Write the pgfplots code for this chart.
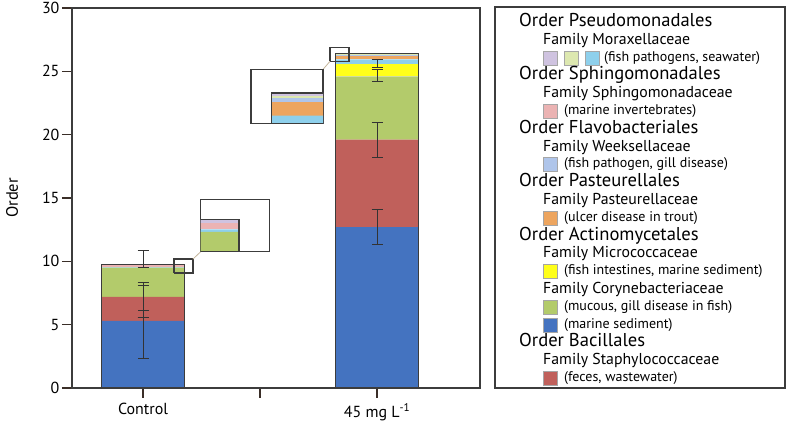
\documentclass[border=0pt]{standalone}
\usepackage{pgfplots}
\usepackage{pgfplotstable}
\pgfplotsset{compat=1.18}
\usepackage{fontspec}
\setmainfont{PT Sans}

\definecolor{cBlue}{HTML}{4473C0}
\definecolor{cRed}{HTML}{C0605B}
\definecolor{cGreen}{HTML}{B3CB6B}
\definecolor{cYellow}{HTML}{FFFF1A}
\definecolor{cLblue}{HTML}{8ED0EC}
\definecolor{cOrange}{HTML}{EDA55F}
\definecolor{cPeri}{HTML}{AFC5EA}
\definecolor{cPink}{HTML}{EBB3B3}
\definecolor{cLgreen}{HTML}{DDE8B0}
\definecolor{cLav}{HTML}{CFC3E0}
\definecolor{frame}{HTML}{3C3C3C}
\definecolor{tickc}{HTML}{3A2E28}
\definecolor{errc}{HTML}{333333}
\definecolor{linkc}{HTML}{C4B59B}

\pgfplotstableread{
x blue red green yellow lblue orange peri pink lgreen lav total
0 5.3 1.9 2.3 0 0.05 0 0 0.14 0 0.07 9.76
2 12.7 6.9 5.0 0.95 0.4 0.27 0.09 0 0.04 0.06 26.41
}\bars

\pgfplotstableread{
x y ep em
0 5.3 3.0 3.0
0 7.2 0.93 1.12
0 9.5 1.34 0
0 5.58 0 0
2 12.72 1.38 1.38
2 19.59 1.38 1.38
2 24.65 0.5 0.47
2 25.6 0.31 0.32
}\errs

\pgfplotsset{
  base/.style={scale only axis, width=408pt, height=380pt,
    xmin=-0.607, xmax=2.880, ymin=0, ymax=30},
  inset/.style={scale only axis, xtick=\empty, ytick=\empty,
    axis line style={draw=frame, line width=1.2pt}},
}

\newcommand\stackbars{%
  \addplot[fill=cBlue, draw=none] table[x=x,y=blue]{\bars};
  \addplot[fill=cRed, draw=none] table[x=x,y=red]{\bars};
  \addplot[fill=cGreen, draw=none] table[x=x,y=green]{\bars};
  \addplot[fill=cYellow, draw=none] table[x=x,y=yellow]{\bars};
  \addplot[fill=cLblue, draw=none] table[x=x,y=lblue]{\bars};
  \addplot[fill=cOrange, draw=none] table[x=x,y=orange]{\bars};
  \addplot[fill=cPeri, draw=none] table[x=x,y=peri]{\bars};
  \addplot[fill=cPink, draw=none] table[x=x,y=pink]{\bars};
  \addplot[fill=cLgreen, draw=none] table[x=x,y=lgreen]{\bars};
  \addplot[fill=cLav, draw=none] table[x=x,y=lav]{\bars};
}

\newcommand\lgord[2]{\node[anchor=mid west, inner sep=0pt, font=\fontsize{18.6}{20}\selectfont] at (447pt,{364pt-17.8pt*#1}) {#2};}
\newcommand\lgfam[2]{\node[anchor=mid west, inner sep=0pt, font=\fontsize{15.8}{17}\selectfont] at (471pt,{364pt-17.8pt*#1}) {#2};}
\newcommand\lgsq[3]{\filldraw[fill=#3, draw=gray!70, line width=0.5pt] (#2pt,{366.3pt-17.8pt*#1-7.5pt}) rectangle ++(14pt,14pt);}
\newcommand\lgdesc[3]{\node[anchor=mid west, inner sep=0pt, font=\fontsize{14}{15}\selectfont] at (#2pt,{365pt-17.8pt*#1}) {#3};}

\begin{document}
\begin{tikzpicture}
\path[use as bounding box] (-72pt,-37pt) rectangle (715pt,388pt);

\begin{axis}[base,
  ybar stacked, bar width=0.71,
  xtick={0,1,2}, xticklabels={Control,,{45 mg L\textsuperscript{-1}}},
  ytick={0,5,...,30},
  tick pos=left, tick align=outside, major tick length=10pt,
  axis line style={draw=frame, line width=1.3pt},
  tick style={draw=tickc, line width=1.2pt},
  ticklabel style={font=\fontsize{16}{18}\selectfont},
  yticklabel style={xshift=1pt},
  xticklabel style={yshift=-2pt},
  /pgf/number format/assume math mode=true,
  ylabel={Order},
  ylabel style={font=\fontsize{16.5}{18}\selectfont, at={(axis description cs:-0.147,0.5)}, anchor=center},
]
\stackbars
\end{axis}

\begin{axis}[base, hide axis]
\addplot[ybar, bar width=0.71, fill=none, draw=frame, line width=1.2pt] table[x=x,y=total]{\bars};
\addplot[draw=none, mark=none, error bars/.cd, y dir=both, y explicit,
  error bar style={line width=1pt, draw=errc},
  error mark options={rotate=90, line width=1pt, mark size=5.5pt, draw=errc}]
  table[x=x, y=y, y error plus=ep, y error minus=em]{\errs};
\addplot[sharp plot, mark=none, draw=frame, line width=1.2pt] coordinates {(0.265,9.08) (0.427,9.08) (0.427,10.18) (0.265,10.18) (0.265,9.08)};
\addplot[sharp plot, mark=none, draw=frame, line width=1.2pt] coordinates {(1.598,25.79) (1.761,25.79) (1.761,26.89) (1.598,26.89) (1.598,25.79)};
\addplot[sharp plot, mark=none, draw=linkc, line width=0.8pt] coordinates {(0.427,10.18) (0.493,10.76)};
\addplot[sharp plot, mark=none, draw=linkc, line width=0.8pt] coordinates {(1.598,25.79) (1.538,25.15)};
\coordinate (i1) at (axis cs:0.493,10.76);
\coordinate (i2) at (axis cs:0.923,20.89);
\end{axis}

% inset 1
\begin{axis}[inset, at={(i1)}, anchor=south west, width=69pt, height=52pt,
  xmin=0.265, xmax=0.427, ymin=9.08, ymax=10.18, ybar stacked, bar width=0.71]
\stackbars
\end{axis}
\begin{axis}[inset, hide axis, at={(i1)}, anchor=south west, width=69pt, height=52pt,
  xmin=0.265, xmax=0.427, ymin=9.08, ymax=10.18]
\addplot[ybar, bar width=0.71, fill=none, draw=frame, line width=1.2pt] table[x=x,y=total]{\bars};
\end{axis}

% inset 2
\begin{axis}[inset, at={(i2)}, anchor=south west, width=72pt, height=54pt,
  xmin=1.598, xmax=1.761, ymin=25.79, ymax=26.89, ybar stacked, bar width=0.71]
\stackbars
\end{axis}
\begin{axis}[inset, hide axis, at={(i2)}, anchor=south west, width=72pt, height=54pt,
  xmin=1.598, xmax=1.761, ymin=25.79, ymax=26.89]
\addplot[ybar, bar width=0.71, fill=none, draw=frame, line width=1.2pt] table[x=x,y=total]{\bars};
\end{axis}

% legend
\draw[frame, line width=1.3pt] (423pt,0pt) rectangle (713pt,381pt);
\lgord{0}{Order Pseudomonadales}
\lgfam{1}{Family Moraxellaceae}
\lgsq{2}{471}{cLav}\lgsq{2}{492}{cLgreen}\lgsq{2}{513}{cLblue}
\lgdesc{2}{532}{(fish pathogens, seawater)}
\lgord{3}{Order Sphingomonadales}
\lgfam{4}{Family Sphingomonadaceae}
\lgsq{5}{471}{cPink}\lgdesc{5}{492}{(marine invertebrates)}
\lgord{6}{Order Flavobacteriales}
\lgfam{7}{Family Weeksellaceae}
\lgsq{8}{471}{cPeri}\lgdesc{8}{492}{(fish pathogen, gill disease)}
\lgord{9}{Order Pasteurellales}
\lgfam{10}{Family Pasteurellaceae}
\lgsq{11}{471}{cOrange}\lgdesc{11}{492}{(ulcer disease in trout)}
\lgord{12}{Order Actinomycetales}
\lgfam{13}{Family Micrococcaceae}
\lgsq{14}{471}{cYellow}\lgdesc{14}{492}{(fish intestines, marine sediment)}
\lgfam{15}{Family Corynebacteriaceae}
\lgsq{16}{471}{cGreen}\lgdesc{16}{492}{(mucous, gill disease in fish)}
\lgsq{17}{471}{cBlue}\lgdesc{17}{492}{(marine sediment)}
\lgord{18}{Order Bacillales}
\lgfam{19}{Family Staphylococcaceae}
\lgsq{20}{471}{cRed}\lgdesc{20}{492}{(feces, wastewater)}
\end{tikzpicture}
\end{document}
